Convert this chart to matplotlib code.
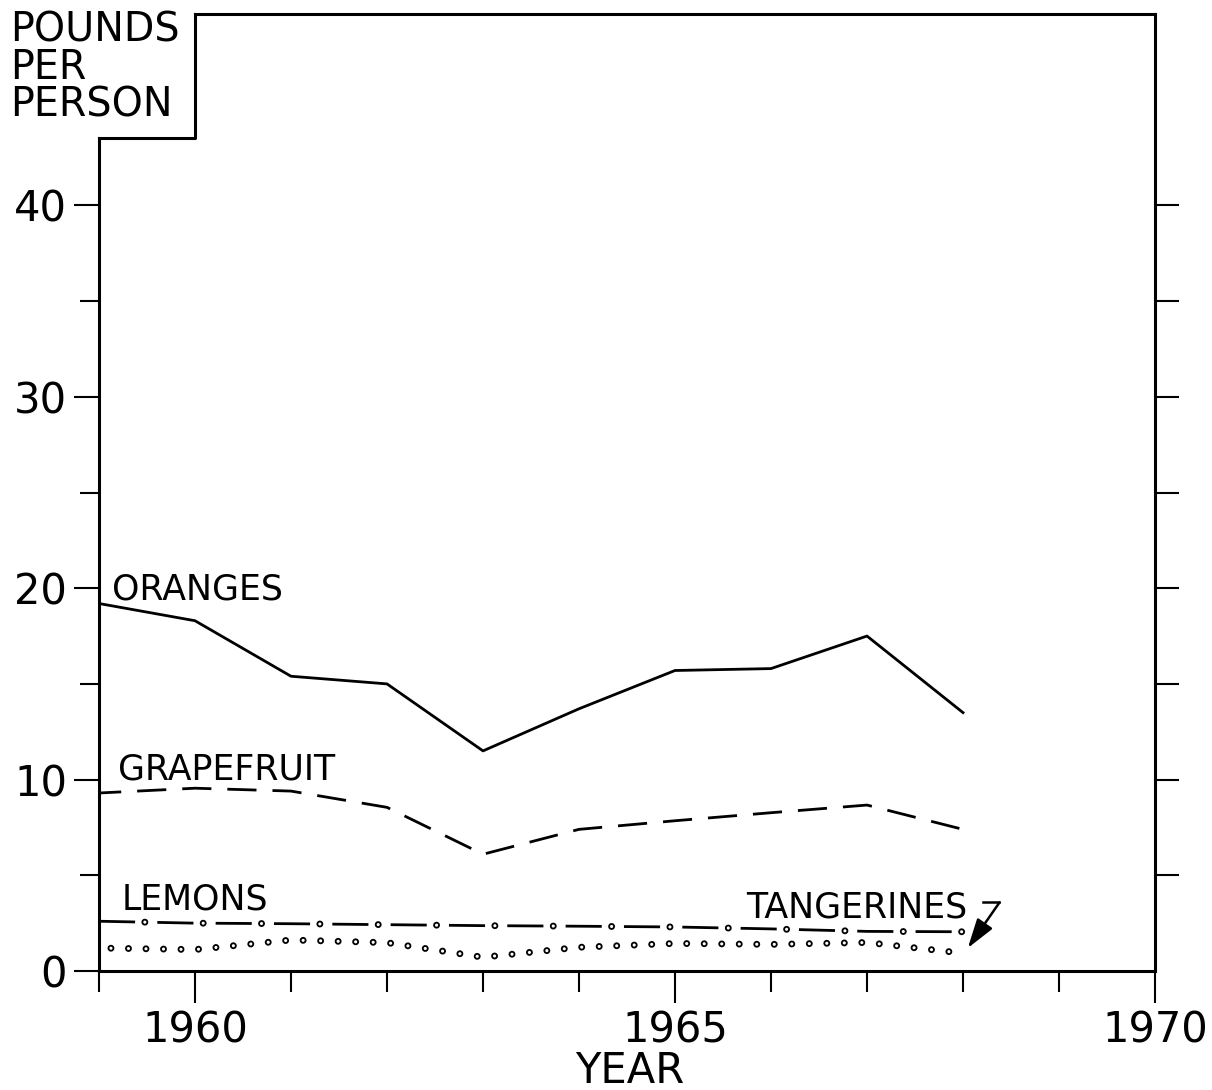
import matplotlib
matplotlib.use('Agg')
import matplotlib.pyplot as plt

plt.rcParams['font.family'] = 'DejaVu Sans'
plt.rcParams['lines.scale_dashes'] = False

# per-capita consumption, pounds per person
years = [1959, 1960, 1961, 1962, 1963, 1964, 1965, 1966, 1967, 1968]
oranges = [19.2, 18.3, 15.4, 15.0, 11.5, 13.7, 15.7, 15.8, 17.5, 13.5]
grapefruit = [9.3, 9.55, 9.4, 8.55, 6.1, 7.4, 7.85, 8.27, 8.67, 7.4]
lemons = [2.6, 2.5, 2.47, 2.42, 2.37, 2.34, 2.3, 2.2, 2.07, 2.05]
tangerines = [1.2, 1.12, 1.62, 1.48, 0.72, 1.24, 1.44, 1.39, 1.49, 0.93]

x_major = [1960, 1965, 1970]
x_minor = [1959, 1961, 1962, 1963, 1964, 1966, 1967, 1968, 1969]
y_major = [0, 10, 20, 30, 40]
y_minor = [5, 15, 25, 35]
y_right = [5, 10, 15, 20, 25, 30, 35, 40]

W, H = 1212, 1090
fig = plt.figure(figsize=(W / 100, H / 100), dpi=100)
ax = fig.add_axes([99 / W, (H - 971) / H, (1155 - 99) / W, (971 - 14) / H])
ax.set_xlim(1959, 1970)
ax.set_ylim(0, 50)

# frame with the notch for the unit label
for s in ax.spines.values():
    s.set_linewidth(2.2)
ax.spines['left'].set_bounds(0, 43.5)
ax.spines['top'].set_bounds(1960, 1970)
ax.plot([1959, 1960, 1960], [43.5, 43.5, 50], color='k', lw=2.2,
        clip_on=False, solid_capstyle='projecting')

ax.set_xticks(x_major)
ax.set_xticks(x_minor, minor=True)
ax.set_yticks(y_major)
ax.set_yticks(y_minor, minor=True)
ax.tick_params(which='both', direction='out', width=1.5, labelsize=30, colors='k')
ax.tick_params(axis='x', which='major', length=23, pad=5)
ax.tick_params(axis='x', which='minor', length=15)
ax.tick_params(axis='y', which='major', length=18, pad=5)
ax.tick_params(axis='y', which='minor', length=14)

ax2 = ax.twinx()
ax2.set_ylim(0, 50)
for s in ax2.spines.values():
    s.set_visible(False)
ax2.set_yticks(y_right)
ax2.tick_params(axis='y', direction='out', length=17, width=1.5, labelright=False)

# oranges
ax.plot(years, oranges, color='k', lw=2.0)
# grapefruit
ax.plot(years, grapefruit, color='k', lw=2.0, linestyle=(5, (21, 11.5)))
# lemons: long dash with small open circles
ax.plot(years, lemons, color='k', lw=2.0, linestyle=(0, (26, 16)))
ax.plot(years, lemons, color='k', lw=5.0, linestyle=(9.0, (0.01, 42)),
        dash_capstyle='round')
ax.plot(years, lemons, color='w', lw=2.3, linestyle=(9.0, (0.01, 42)),
        dash_capstyle='round')
# tangerines: open circles
ax.plot(years, tangerines, color='k', lw=5.0, linestyle=(4.0, (0.01, 12.6)),
        dash_capstyle='round')
ax.plot(years, tangerines, color='w', lw=2.3, linestyle=(4.0, (0.01, 12.6)),
        dash_capstyle='round')

lab = dict(fontsize=25, va='baseline', ha='left', color='k')
ax.text(1959.14, 19.4, 'ORANGES', **lab)
ax.text(1959.2, 10.0, 'GRAPEFRUIT', **lab)
ax.text(1959.24, 3.2, 'LEMONS', **lab)
ax.text(1965.74, 2.8, 'TANGERINES', **lab)

ax.plot([1968.21, 1968.38], [3.58, 3.58], color='k', lw=1.8)
ax.annotate('', xy=(1968.05, 1.2), xytext=(1968.38, 3.58),
            arrowprops=dict(arrowstyle='-|>,head_length=0.9,head_width=0.28',
                            color='k', lw=1.8, shrinkA=0, shrinkB=0,
                            mutation_scale=20))

fig.text(10 / W, 1 - 10 / H, 'POUNDS\nPER\nPERSON', fontsize=28.5,
         va='top', ha='left', linespacing=0.93)
fig.text(630 / W, 1 - 1083 / H, 'YEAR', fontsize=30, ha='center', va='baseline')

fig.savefig('out.png', dpi=100)
